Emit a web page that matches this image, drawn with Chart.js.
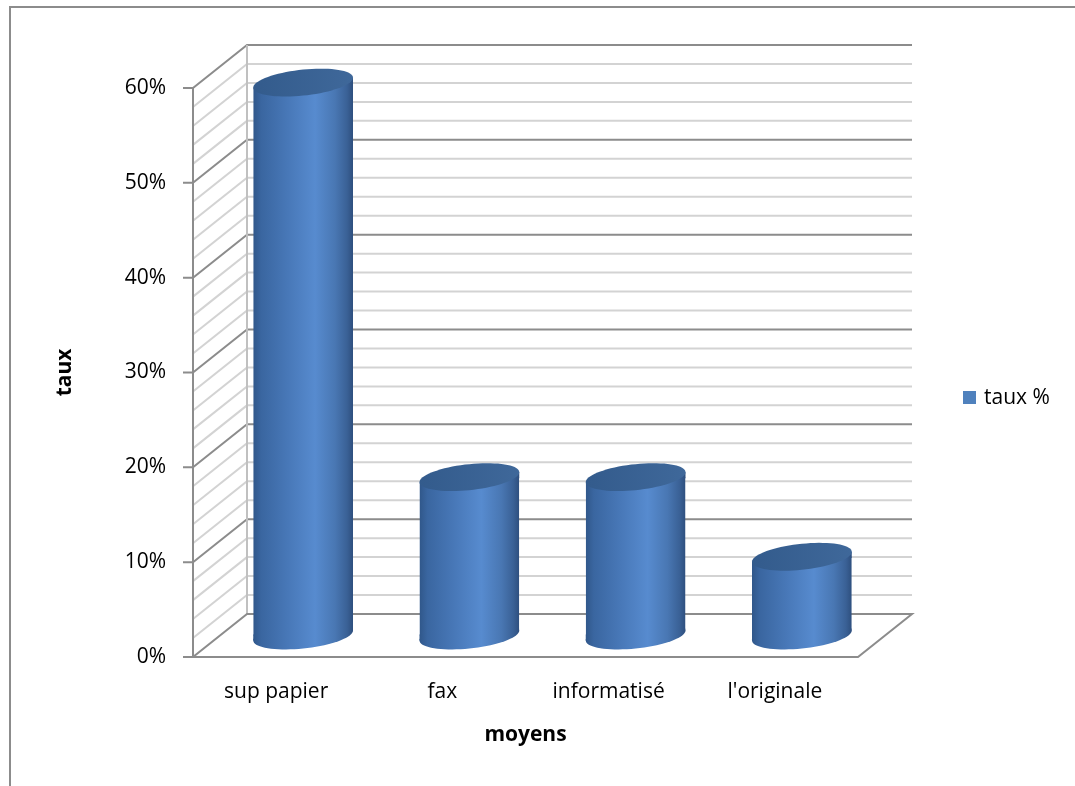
<!DOCTYPE html>
<html>
<head>
<meta charset="utf-8">
<script src="https://cdn.jsdelivr.net/npm/chart.js@4.4.1/dist/chart.umd.min.js"></script>
<style>
  html, body { margin: 0; padding: 0; background: #fff; }
  #wrap { width: 1075px; height: 786px; position: relative; }
</style>
</head>
<body>
<div id="wrap"><canvas id="myChart"></canvas></div>
<script>
// donnees du graphique
const categories = ['sup papier', 'fax', 'informatisé', "l'originale"];
const tauxValues = [58.3, 16.7, 16.7, 8.3];
const seriesLabel = 'taux %';
const yMax = 60;
const yStep = 10;
const yMinorStep = 2;

// decalage de la profondeur (effet 3D)
const DEPTH_X = 54;
const DEPTH_Y = -43;
const TILT = 0.1;     // inclinaison des ellipses
const CAP_RY = 13;
const FONT = '"Open Sans", "Noto Sans", sans-serif';

function barGradient(context) {
    const chart = context.chart;
    const xs = chart.scales.x;
    if (!chart.chartArea || !xs || context.dataIndex === undefined) return '#4f81bd';
    const cx = xs.getPixelForValue(context.dataIndex);
    const half = xs.width / categories.length * 0.6 / 2;
    if (!isFinite(cx) || !isFinite(half) || half <= 0) return '#4f81bd';
    const g = chart.ctx.createLinearGradient(cx - half, 0, cx + half, 0);
    g.addColorStop(0, '#30578a');
    g.addColorStop(0.08, '#3a66a0');
    g.addColorStop(0.35, '#4878b8');
    g.addColorStop(0.62, '#578bcf');
    g.addColorStop(0.82, '#4977b3');
    g.addColorStop(0.94, '#3a6196');
    g.addColorStop(1, '#2e4f7e');
    return g;
}

function ellipsePath(ctx, cx, cy, rx, ry) {
    ctx.beginPath();
    for (let i = 0; i <= 72; i++) {
        const t = i / 72 * Math.PI * 2;
        const x = cx + rx * Math.cos(t);
        const y = cy + ry * Math.sin(t) - TILT * rx * Math.cos(t);
        if (i === 0) ctx.moveTo(x, y); else ctx.lineTo(x, y);
    }
    ctx.closePath();
}

const walls3d = {
    id: 'walls3d',
    beforeDraw(chart) {
        const ctx = chart.ctx;
        ctx.save();
        ctx.fillStyle = '#fff';
        ctx.fillRect(0, 0, chart.width, chart.height);
        ctx.strokeStyle = '#8c8c8c';
        ctx.lineWidth = 2;
        ctx.strokeRect(10, 7, chart.width + 20, chart.height + 20);
        ctx.restore();
    },
    beforeDatasetsDraw(chart) {
        const ctx = chart.ctx;
        const ys = chart.scales.y;
        const {left, right, bottom} = chart.chartArea;
        const top = ys.getPixelForValue(yMax);
        ctx.save();
        ctx.lineWidth = 2;
        // lignes du mur du fond et du mur de gauche
        for (let v = yMinorStep; v <= yMax; v += yMinorStep) {
            const y = ys.getPixelForValue(v);
            ctx.strokeStyle = (v % yStep === 0) ? '#8c8c8c' : '#d3d3d3';
            ctx.beginPath();
            ctx.moveTo(left, y);
            ctx.lineTo(left + DEPTH_X, y + DEPTH_Y);
            ctx.lineTo(right + DEPTH_X, y + DEPTH_Y);
            ctx.stroke();
        }
        // arete verticale du fond
        ctx.strokeStyle = '#c0c0c0';
        ctx.beginPath();
        ctx.moveTo(left + DEPTH_X, top + DEPTH_Y);
        ctx.lineTo(left + DEPTH_X, bottom + DEPTH_Y);
        ctx.stroke();
        // sol
        ctx.strokeStyle = '#8c8c8c';
        ctx.beginPath();
        ctx.moveTo(left, bottom);
        ctx.lineTo(right, bottom);
        ctx.lineTo(right + DEPTH_X, bottom + DEPTH_Y);
        ctx.lineTo(left + DEPTH_X, bottom + DEPTH_Y);
        ctx.closePath();
        ctx.stroke();
        // axe vertical + graduations
        ctx.beginPath();
        ctx.moveTo(left, top);
        ctx.lineTo(left, bottom);
        for (let v = 0; v <= yMax; v += yStep) {
            const y = ys.getPixelForValue(v);
            ctx.moveTo(left - 10, y);
            ctx.lineTo(left, y);
        }
        ctx.stroke();
        ctx.restore();

        // les cylindres sont au milieu de la profondeur
        ctx.save();
        ctx.translate(DEPTH_X / 2, DEPTH_Y / 2);
        // on coupe les coins des barres pour suivre l'inclinaison des ellipses
        ctx.beginPath();
        chart.getDatasetMeta(0).data.forEach((bar) => {
            const rx = bar.width / 2, s = TILT * rx;
            if (!isFinite(bar.x) || !isFinite(bar.y) || !(rx > 0)) return;
            ctx.moveTo(bar.x - rx, bar.y + s);
            ctx.lineTo(bar.x + rx, bar.y - s);
            ctx.lineTo(bar.x + rx, bar.base - s);
            ctx.lineTo(bar.x - rx, bar.base + s);
            ctx.closePath();
        });
        ctx.clip();
    },
    afterDatasetsDraw(chart) {
        const ctx = chart.ctx;
        ctx.restore();
        ctx.save();
        ctx.translate(DEPTH_X / 2, DEPTH_Y / 2);
        const meta = chart.getDatasetMeta(0);
        meta.data.forEach((bar) => {
            const rx = bar.width / 2, s = TILT * rx;
            if (!isFinite(bar.x) || !isFinite(bar.y) || !(rx > 0)) return;
            const body = bar.options.backgroundColor;
            // petits raccords du corps du cylindre
            ctx.fillStyle = body;
            ctx.beginPath();
            ctx.moveTo(bar.x, bar.y);
            ctx.lineTo(bar.x + rx, bar.y - s);
            ctx.lineTo(bar.x + rx, bar.y + 1);
            ctx.lineTo(bar.x, bar.y + 1);
            ctx.closePath();
            ctx.moveTo(bar.x, bar.base);
            ctx.lineTo(bar.x - rx, bar.base + s);
            ctx.lineTo(bar.x - rx, bar.base - 1);
            ctx.lineTo(bar.x, bar.base - 1);
            ctx.closePath();
            ctx.fill();
            // fond du cylindre
            ellipsePath(ctx, bar.x, bar.base, rx, CAP_RY);
            ctx.fill();
            // dessus du cylindre
            const g = ctx.createLinearGradient(bar.x - rx, bar.y, bar.x + rx, bar.y);
            g.addColorStop(0, '#335b8c');
            g.addColorStop(1, '#3f689a');
            ellipsePath(ctx, bar.x, bar.y, rx, CAP_RY);
            ctx.fillStyle = g;
            ctx.fill();
        });
        ctx.restore();
    },
    afterDraw(chart) {
        const ctx = chart.ctx;
        ctx.save();
        ctx.fillStyle = '#4f81bd';
        ctx.fillRect(963, 391, 13, 13);
        ctx.fillStyle = '#000';
        ctx.font = '21px ' + FONT;
        ctx.textBaseline = 'middle';
        ctx.fillText(chart.data.datasets[0].label, 984, 398);
        ctx.restore();
    }
};

Chart.defaults.color = '#000';
Chart.defaults.font.family = FONT;
Chart.defaults.font.size = 21;

new Chart(document.getElementById('myChart'), {
    type: 'bar',
    data: {
        labels: categories,
        datasets: [{
            label: seriesLabel,
            data: tauxValues,
            backgroundColor: barGradient,
            borderWidth: 0,
            categoryPercentage: 1,
            barPercentage: 0.6,
            clip: false
        }]
    },
    options: {
        responsive: true,
        maintainAspectRatio: false,
        animation: false,
        events: [],
        layout: { padding: { top: 88, left: 0, right: 217, bottom: 0 } },
        plugins: {
            legend: { display: false },
            tooltip: { enabled: false }
        },
        scales: {
            x: {
                grid: { display: false, drawTicks: false },
                border: { display: false },
                ticks: { padding: 22 },
                title: {
                    display: true,
                    text: 'moyens',
                    font: { weight: 'bold', size: 21 },
                    padding: { top: 0, bottom: 38 }
                },
                afterFit(scale) { scale.height = 129; }
            },
            y: {
                min: 0,
                max: yMax,
                grid: { display: false, drawTicks: false },
                border: { display: false },
                ticks: {
                    stepSize: yStep,
                    padding: 27,
                    callback: (v) => v + '%'
                },
                title: {
                    display: true,
                    text: 'taux',
                    font: { weight: 'bold', size: 21 },
                    padding: { top: 52, bottom: 0 }
                },
                afterFit(scale) { scale.width = 193; }
            }
        }
    },
    plugins: [walls3d]
});
</script>
</body>
</html>
